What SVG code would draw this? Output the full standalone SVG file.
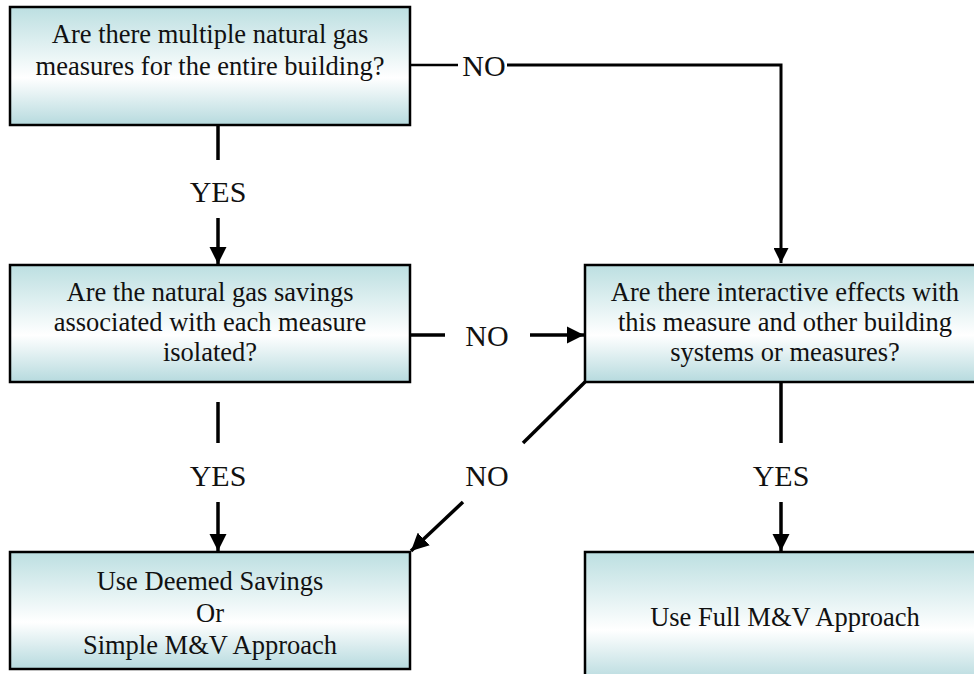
<svg xmlns="http://www.w3.org/2000/svg" width="974" height="674" viewBox="0 0 974 674">
<defs>
<linearGradient id="g" x1="0" y1="0" x2="0" y2="1">
<stop offset="0" stop-color="#bcdfe1"/>
<stop offset="0.6" stop-color="#ffffff"/>
<stop offset="1" stop-color="#b6dade"/>
</linearGradient>
<marker id="ah" viewBox="0 0 10 10" refX="10" refY="5" markerWidth="5" markerHeight="5" markerUnits="strokeWidth" orient="auto">
<path d="M0,0 L10,5 L0,10 z" fill="#000"/>
</marker>
</defs>
<style>
.box{fill:url(#g);stroke:#000;stroke-width:2.5}
.t{font-family:"Liberation Serif","Times New Roman",serif;font-size:26.5px;fill:#111;text-anchor:middle}
.lbl{font-family:"Liberation Serif","Times New Roman",serif;font-size:30px;fill:#111;text-anchor:middle}
.c{stroke:#000;stroke-width:3.5;fill:none}
.ca{stroke:#000;stroke-width:3.5;fill:none;marker-end:url(#ah)}
</style>
<rect width="974" height="674" fill="#fff"/>
<g id="connectors">
<line class="c" x1="410" y1="65" x2="458" y2="65" style="stroke-width:2.5"/>
<polyline class="ca" points="507,65 781,65 781,263" style="stroke-width:3"/>
<text class="lbl" x="484" y="76">NO</text>
<line class="c" x1="218" y1="125" x2="218" y2="160"/>
<line class="ca" x1="218" y1="218" x2="218" y2="264"/>
<text class="lbl" x="218" y="202">YES</text>
<line class="c" x1="410" y1="335" x2="445" y2="335"/>
<line class="ca" x1="530" y1="335" x2="584" y2="335"/>
<text class="lbl" x="487" y="346">NO</text>
<line class="c" x1="585" y1="382" x2="523" y2="443"/>
<line class="ca" x1="463" y1="502" x2="411" y2="551"/>
<text class="lbl" x="487" y="486">NO</text>
<line class="c" x1="218" y1="402" x2="218" y2="443"/>
<line class="ca" x1="218" y1="502" x2="218" y2="551"/>
<text class="lbl" x="218" y="486">YES</text>
<line class="c" x1="781" y1="382" x2="781" y2="443"/>
<line class="ca" x1="781" y1="502" x2="781" y2="551"/>
<text class="lbl" x="781" y="486">YES</text>
</g>
<g id="q1">
<rect class="box" x="10" y="7" width="400" height="118"/>
<text class="t" x="210" y="43">Are there multiple natural gas</text>
<text class="t" x="210" y="75">measures for the entire building?</text>
</g>
<g id="q2">
<rect class="box" x="10" y="265" width="400" height="117"/>
<text class="t" x="210" y="301">Are the natural gas savings</text>
<text class="t" x="210" y="331">associated with each measure</text>
<text class="t" x="210" y="361">isolated?</text>
</g>
<g id="q3">
<rect class="box" x="585" y="265" width="400" height="117"/>
<text class="t" x="785" y="301">Are there interactive effects with</text>
<text class="t" x="785" y="331">this measure and other building</text>
<text class="t" x="785" y="361">systems or measures?</text>
</g>
<g id="r1">
<rect class="box" x="10" y="552" width="400" height="117"/>
<text class="t" x="210" y="590">Use Deemed Savings</text>
<text class="t" x="210" y="622">Or</text>
<text class="t" x="210" y="654">Simple M&amp;V Approach</text>
</g>
<g id="r2">
<rect class="box" x="585" y="552" width="400" height="130"/>
<text class="t" x="785" y="626">Use Full M&amp;V Approach</text>
</g>
</svg>
